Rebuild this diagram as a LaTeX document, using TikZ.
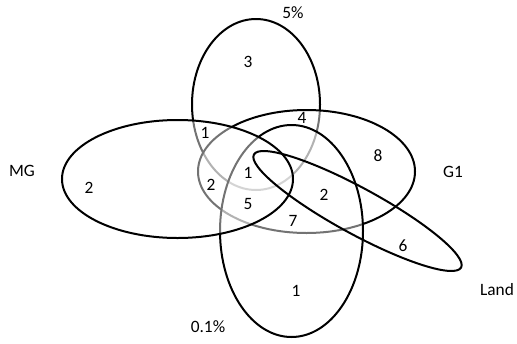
\documentclass[tikz,border=0pt]{standalone}
\usepackage{fontspec}
\setmainfont{Carlito}

\tikzset{every picture/.style={line width=0.75pt}}
\tikzset{
  setline/.style={draw=black, line width=1.5pt},
  setfill/.style={setline, fill=white, fill opacity=0.45},
  setlabel/.style={inner sep=0.75pt, font=\fontsize{13}{15}\selectfont}
}

\begin{document}
\begin{tikzpicture}[x=0.75pt,y=0.75pt,yscale=-1,xscale=1]
\useasboundingbox (0,0) rectangle (517,343);

%Shape: Ellipse 5%
\draw [setfill] (256,104.5) ellipse [x radius=64, y radius=85.5];
%Shape: Ellipse G1
\draw [setfill] (306.5,171.5) ellipse [x radius=108.5, y radius=61.5];
%Shape: Ellipse 0.1%
\draw [setfill] (291.5,231) ellipse [x radius=71.5, y radius=106];
%Shape: Ellipse MG
\draw [setfill] (177.5,179) ellipse [x radius=115.5, y radius=59];
%Shape: Ellipse Land
\draw [setline, rotate around={28.6:(357.5,211)}] (357.5,211) ellipse [x radius=118, y radius=23];

% Text Node
\node [setlabel] (lblFive) at (293,13) {5\%};
% Text Node
\node [setlabel] (lblMG) at (22,171) {MG};
% Text Node
\node [setlabel] (lblGone) at (453,172) {G1};
% Text Node
\node [setlabel] (lblLand) at (497,290) {Land};
% Text Node
\node [setlabel] (lblPoint) at (208,327) {0.1\%};

% Text Node
\node [setlabel] (nFiveOnly) at (248,62) {3};
% Text Node
\node [setlabel] (nFiveGone) at (302,118) {4};
% Text Node
\node [setlabel] (nFiveMG) at (205,133) {1};
% Text Node
\node [setlabel] (nMGOnly) at (89,188) {2};
% Text Node
\node [setlabel] (nMGGone) at (211,185) {2};
% Text Node
\node [setlabel] (nCentre) at (248,173) {1};
% Text Node
\node [setlabel] (nMGPoint) at (248,204) {5};
% Text Node
\node [setlabel] (nGonePoint) at (293,221) {7};
% Text Node
\node [setlabel] (nLandMid) at (324,195) {2};
% Text Node
\node [setlabel] (nGoneOnly) at (378,156) {8};
% Text Node
\node [setlabel] (nLandOnly) at (403,246) {6};
% Text Node
\node [setlabel] (nPointOnly) at (296,291) {1};

\end{tikzpicture}
\end{document}
